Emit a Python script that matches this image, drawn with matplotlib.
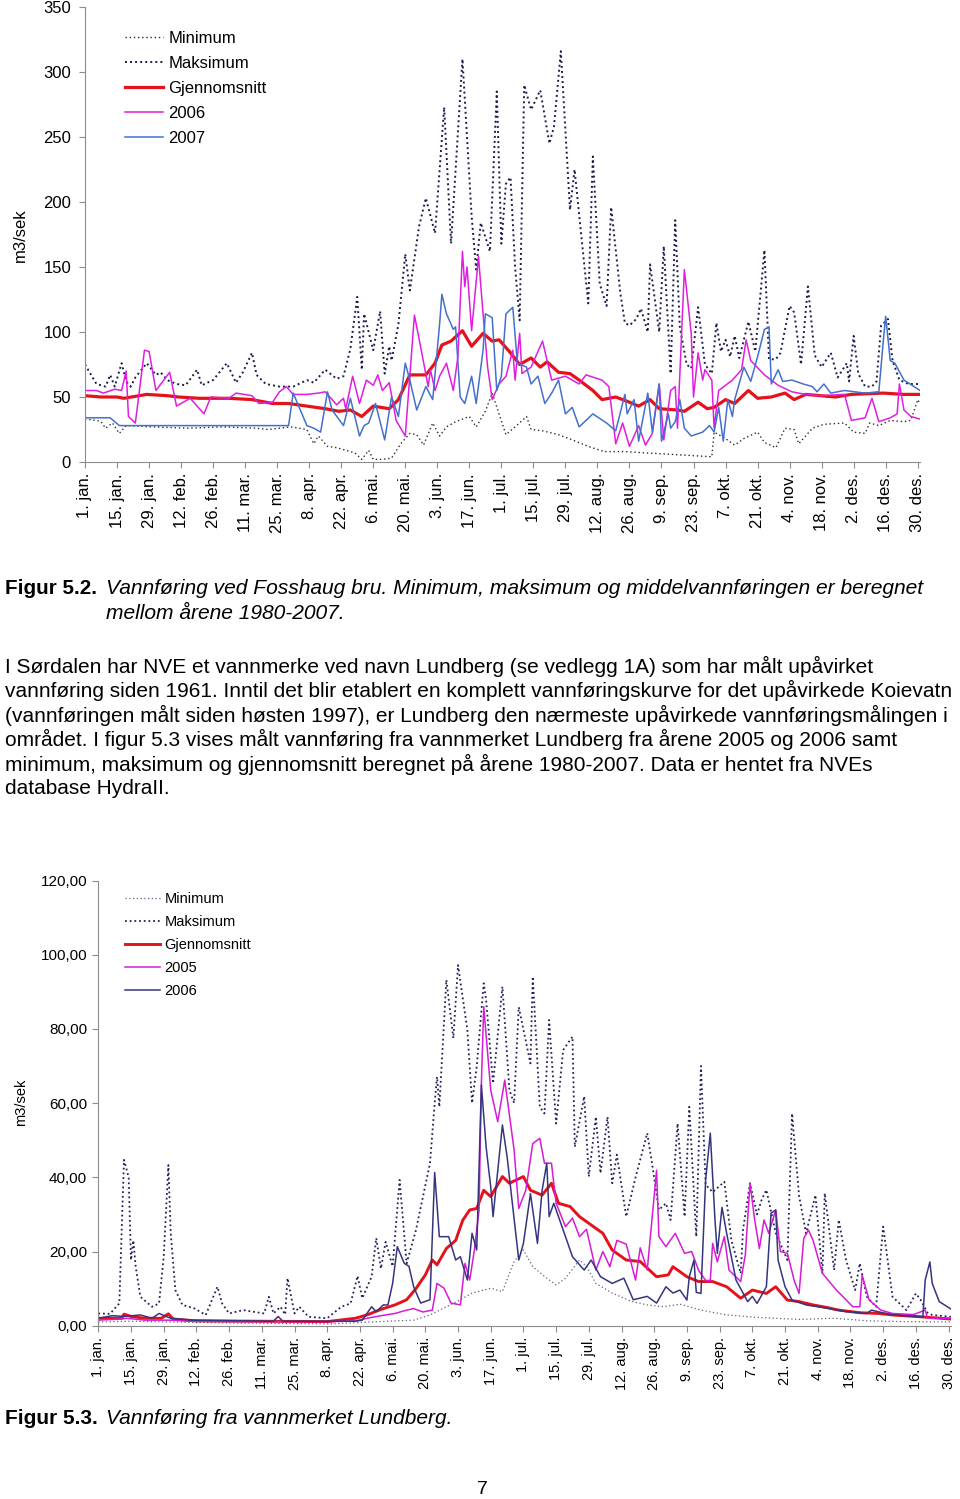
import matplotlib
matplotlib.use('Agg')
import matplotlib.pyplot as plt
from matplotlib.ticker import FuncFormatter

W, H = 960, 1499
plt.rcParams['font.family'] = ['Liberation Sans', 'DejaVu Sans']

tick_days = list(range(0, 365, 14))
tick_labels = ['1. jan.', '15. jan.', '29. jan.', '12. feb.', '26. feb.', '11. mar.', '25. mar.',
               '8. apr.', '22. apr.', '6. mai.', '20. mai.', '3. jun.', '17. jun.', '1. jul.',
               '15. jul.', '29. jul.', '12. aug.', '26. aug.', '9. sep.', '23. sep.', '7. okt.',
               '21. okt.', '4. nov.', '18. nov.', '2. des.', '16. des.', '30. des.']

# Figur 5.2 - Fosshaug bru, (dag, m3/sek)
fos_min = [(0, 33), (5, 32), (7, 31), (9, 26), (12, 30), (15, 22), (18, 28), (30, 27), (45, 26), (60, 27),
           (75, 26), (80, 25), (90, 27), (97, 25), (100, 14), (102, 20), (106, 12), (110, 11), (114, 9),
           (118, 7), (121, 2), (124, 9), (126, 2), (130, 2), (134, 3), (138, 14), (142, 22), (145, 21),
           (148, 13), (152, 30), (155, 20), (158, 27), (162, 31), (168, 35), (171, 27), (175, 39), (178, 53),
           (181, 37), (184, 21), (188, 27), (193, 35), (195, 25), (200, 24), (207, 21), (213, 17), (220, 12),
           (227, 8), (236, 8), (245, 7), (255, 6), (265, 5), (274, 4), (275, 23), (280, 18), (284, 13),
           (288, 18), (294, 23), (297, 15), (302, 11), (306, 26), (310, 25), (312, 14), (318, 26), (323, 29),
           (332, 30), (336, 23), (341, 22), (343, 30), (347, 28), (352, 32), (358, 31), (361, 32), (364, 48),
           (365, 45)]
fos_max = [(0, 75), (5, 60), (9, 58), (11, 67), (13, 58), (16, 76), (18, 62), (20, 58), (22, 65), (27, 76),
           (31, 67), (33, 69), (36, 63), (40, 60), (44, 59), (49, 71), (51, 59), (56, 63), (62, 76), (66, 61),
           (69, 69), (73, 84), (75, 67), (79, 60), (85, 58), (91, 58), (97, 63), (100, 61), (105, 71),
           (110, 64), (113, 66), (116, 87), (119, 127), (121, 71), (122, 114), (126, 86), (129, 116),
           (131, 68), (133, 89), (134, 78), (137, 106), (140, 160), (142, 132), (146, 181), (149, 203),
           (153, 176), (157, 273), (160, 168), (165, 310), (169, 189), (171, 148), (173, 184), (177, 162),
           (180, 285), (182, 168), (184, 214), (186, 219), (188, 150), (190, 109), (192, 290), (195, 271),
           (199, 286), (203, 245), (205, 258), (208, 316), (212, 194), (214, 225), (217, 173), (220, 122),
           (222, 235), (225, 137), (228, 120), (230, 196), (234, 130), (236, 107), (238, 105), (241, 110),
           (243, 118), (246, 100), (247, 152), (251, 100), (253, 166), (256, 68), (258, 186), (260, 104),
           (263, 75), (265, 72), (268, 119), (271, 75), (274, 68), (276, 107), (278, 85), (280, 94),
           (282, 81), (284, 97), (286, 80), (290, 108), (293, 85), (297, 163), (299, 79), (302, 79),
           (304, 84), (308, 120), (310, 115), (313, 75), (316, 135), (319, 82), (322, 73), (326, 84),
           (329, 65), (333, 76), (334, 62), (336, 97), (338, 68), (341, 58), (344, 58), (346, 62), (348, 105),
           (351, 110), (353, 78), (356, 63), (360, 60), (365, 60)]
fos_mean = [(0, 51), (7, 50), (14, 50), (17, 49), (27, 52), (36, 51), (41, 50), (50, 49), (63, 49), (73, 48),
            (82, 45), (89, 45), (97, 43), (105, 41), (111, 39), (116, 40), (121, 35), (126, 43), (133, 41),
            (137, 48), (142, 67), (149, 67), (153, 76), (156, 90), (160, 93), (165, 101), (169, 89), (174, 99),
            (178, 93), (181, 94), (186, 84), (190, 75), (195, 80), (199, 73), (202, 77), (207, 69), (212, 68),
            (216, 63), (222, 55), (226, 48), (232, 50), (238, 46), (242, 43), (247, 48), (251, 41), (259, 40),
            (262, 39), (268, 46), (272, 41), (275, 42), (280, 48), (284, 45), (290, 55), (294, 49), (300, 50),
            (306, 53), (310, 48), (315, 52), (328, 50), (335, 52), (349, 53), (358, 52), (365, 52)]
fos_2006 = [(0, 55), (5, 55), (8, 53), (13, 56), (16, 55), (18, 70), (19, 35), (22, 30), (26, 86), (28, 85),
            (31, 55), (37, 69), (40, 43), (46, 49), (52, 37), (55, 50), (63, 49), (66, 53), (73, 51), (76, 45),
            (82, 46), (85, 54), (88, 58), (91, 52), (97, 52), (102, 53), (105, 54), (110, 44), (113, 49),
            (114, 41), (117, 66), (120, 45), (123, 63), (126, 59), (128, 67), (130, 55), (133, 61), (136, 32),
            (140, 20), (144, 113), (147, 86), (150, 58), (151, 71), (153, 55), (155, 66), (158, 76), (161, 55),
            (163, 81), (165, 162), (166, 135), (167, 150), (169, 101), (172, 158), (174, 114), (176, 73),
            (178, 48), (181, 60), (184, 66), (187, 86), (188, 63), (190, 99), (191, 68), (195, 73), (200, 93),
            (204, 63), (210, 66), (216, 60), (219, 67), (226, 63), (229, 58), (232, 14), (235, 30), (238, 12),
            (242, 28), (245, 13), (248, 22), (251, 60), (253, 17), (256, 55), (258, 58), (259, 26), (262, 148),
            (265, 99), (266, 50), (268, 84), (270, 63), (271, 71), (274, 63), (275, 26), (277, 55), (283, 63),
            (287, 71), (289, 94), (291, 78), (297, 67), (303, 59), (309, 54), (315, 52), (321, 51), (332, 52),
            (335, 32), (341, 34), (344, 49), (347, 31), (352, 34), (355, 37), (356, 60), (358, 40), (361, 35),
            (365, 33)]
fos_2007 = [(0, 34), (11, 34), (15, 28), (30, 28), (60, 28), (89, 28), (91, 53), (97, 28), (100, 26), (103, 23),
            (106, 54), (108, 40), (113, 28), (116, 49), (120, 20), (122, 28), (124, 30), (127, 45), (131, 17),
            (134, 50), (137, 35), (140, 76), (142, 63), (145, 40), (149, 58), (152, 48), (155, 106), (156, 129),
            (158, 114), (161, 102), (162, 104), (164, 50), (166, 45), (169, 66), (171, 45), (174, 86), (175, 114),
            (178, 111), (180, 55), (182, 66), (184, 114), (187, 119), (189, 76), (193, 73), (195, 60), (198, 66),
            (201, 45), (204, 53), (207, 63), (210, 37), (213, 42), (216, 27), (222, 37), (228, 30), (232, 24),
            (236, 52), (237, 37), (240, 48), (242, 16), (246, 53), (248, 23), (251, 60), (252, 16), (255, 37),
            (256, 26), (258, 31), (260, 48), (262, 26), (265, 20), (270, 23), (273, 28), (275, 23), (277, 42),
            (279, 16), (281, 48), (283, 35), (284, 48), (288, 73), (291, 62), (294, 81), (297, 102), (299, 104),
            (300, 60), (303, 71), (305, 62), (309, 63), (314, 60), (318, 58), (320, 54), (323, 60), (326, 53),
            (332, 55), (341, 53), (347, 54), (349, 94), (350, 112), (352, 78), (354, 76), (358, 63), (365, 55)]

# Figur 5.3 - Lundberg, (dag, m3/sek)
lun_min = [(0, 1.0), (14, 1.2), (30, 1.0), (60, 0.7), (100, 0.5), (120, 1.1), (135, 1.5), (142, 2.9),
           (149, 5.1), (155, 7.0), (160, 8.8), (168, 10.1), (173, 9.2), (178, 17.3), (182, 20.4), (186, 15.9),
           (192, 12.8), (196, 11.0), (200, 12.8), (206, 17.7), (209, 16.0), (213, 11.4), (220, 8.8), (228, 6.6),
           (235, 5.6), (242, 5.1), (249, 5.8), (258, 4.2), (269, 2.9), (283, 2.2), (300, 1.7), (315, 2.0),
           (330, 1.3), (345, 1.1), (365, 1.0)]
lun_max = [(0, 3.3), (5, 3.2), (9, 6.0), (11, 44.7), (13, 40.0), (14, 17.7), (15, 23.0), (16, 16.0), (18, 7.8),
           (23, 5.1), (26, 6.0), (28, 18.6), (30, 43.3), (31, 25.0), (33, 9.6), (36, 5.6), (41, 4.7), (46, 2.9),
           (51, 10.5), (53, 6.0), (56, 3.3), (62, 4.2), (71, 3.3), (73, 7.8), (75, 3.3), (78, 5.1), (80, 3.0),
           (81, 12.8), (84, 3.3), (86, 5.1), (90, 2.4), (98, 2.0), (104, 5.1), (108, 6.0), (111, 13.4),
           (113, 7.4), (117, 13.2), (119, 23.6), (121, 15.4), (123, 22.6), (126, 16.0), (129, 39.3), (132, 16.8),
           (136, 25.8), (142, 43.8), (144, 60.0), (145, 67.1), (146, 59.0), (149, 93.2), (152, 77.5),
           (154, 97.2), (158, 79.7), (160, 60.0), (162, 69.8), (165, 92.3), (166, 88.0), (169, 65.3),
           (173, 91.4), (176, 63.5), (178, 60.0), (180, 85.9), (185, 70.7), (186, 94.1), (189, 59.0),
           (191, 57.2), (193, 82.4), (196, 54.5), (199, 74.3), (203, 77.9), (204, 48.2), (208, 61.8),
           (210, 40.2), (213, 56.3), (215, 41.1), (218, 56.3), (220, 38.4), (222, 46.1), (226, 29.4),
           (230, 40.0), (235, 51.9), (237, 44.0), (240, 31.2), (243, 33.0), (245, 28.5), (248, 54.5),
           (251, 29.4), (253, 59.0), (256, 24.0), (258, 70.0), (260, 38.0), (263, 36.0), (268, 38.8),
           (271, 23.1), (275, 14.1), (276, 25.8), (279, 38.4), (282, 30.0), (284, 34.0), (286, 36.6),
           (290, 25.0), (295, 17.7), (297, 57.2), (300, 35.0), (303, 24.9), (307, 35.2), (310, 14.1),
           (311, 35.7), (315, 15.0), (317, 28.5), (320, 18.0), (324, 9.6), (326, 16.8), (329, 7.8), (333, 5.1),
           (336, 26.7), (340, 7.8), (346, 4.2), (350, 8.7), (352, 7.0), (355, 3.5), (357, 2.9), (365, 2.4)]
lun_mean = [(0, 2.0), (10, 2.0), (11, 3.1), (14, 2.5), (20, 2.0), (27, 2.0), (30, 3.2), (32, 1.8), (42, 1.3),
            (70, 1.2), (98, 1.1), (110, 2.0), (115, 2.9), (121, 4.4), (127, 5.6), (132, 7.0), (136, 10.0),
            (140, 13.7), (143, 17.7), (145, 16.4), (149, 20.8), (153, 23.0), (156, 28.4), (159, 31.2),
            (162, 31.6), (165, 36.5), (168, 34.8), (173, 40.2), (176, 38.4), (179, 39.3), (182, 40.2),
            (185, 36.5), (190, 35.2), (194, 38.4), (197, 33.0), (202, 32.1), (206, 29.4), (212, 26.7),
            (216, 24.9), (220, 20.4), (226, 17.7), (232, 17.3), (239, 13.2), (244, 13.7), (246, 15.9),
            (252, 13.2), (257, 11.9), (263, 11.9), (269, 10.5), (275, 7.4), (280, 9.6), (286, 8.7), (290, 10.5),
            (295, 6.9), (300, 6.5), (306, 5.6), (312, 4.9), (317, 4.2), (326, 3.5), (334, 3.3), (340, 2.9),
            (352, 2.4), (365, 1.8)]
lun_2005 = [(0, 1.5), (10, 1.8), (12, 2.0), (20, 1.5), (30, 1.5), (40, 1.2), (60, 1.1), (100, 1.1), (110, 1.3),
            (115, 2.0), (121, 2.7), (127, 3.3), (132, 4.2), (135, 4.6), (139, 3.7), (143, 4.2), (145, 11.4),
            (148, 10.1), (151, 6.1), (155, 5.6), (157, 16.8), (159, 12.3), (161, 20.4), (163, 31.2), (164, 65.3),
            (165, 86.0), (168, 63.5), (171, 55.0), (174, 66.2), (178, 47.4), (180, 31.6), (183, 36.5),
            (186, 49.1), (189, 50.5), (191, 43.8), (194, 43.8), (196, 33.0), (200, 26.7), (203, 29.0),
            (206, 24.0), (209, 26.0), (213, 15.0), (216, 20.0), (219, 15.9), (222, 23.0), (226, 22.0),
            (230, 12.3), (232, 21.0), (235, 15.0), (239, 41.9), (240, 24.0), (243, 21.3), (247, 24.9),
            (251, 19.5), (254, 20.0), (257, 14.9), (260, 12.2), (262, 12.2), (263, 22.2), (265, 17.2),
            (268, 24.0), (270, 15.0), (275, 11.9), (277, 19.1), (279, 38.4), (281, 28.5), (283, 20.8),
            (285, 28.5), (287, 24.9), (290, 31.2), (292, 20.0), (295, 19.5), (298, 12.0), (300, 8.7),
            (302, 23.5), (304, 25.8), (306, 23.0), (310, 14.1), (316, 9.6), (323, 5.1), (326, 5.1), (327, 13.6),
            (330, 6.9), (335, 4.2), (340, 3.3), (349, 3.0), (354, 4.2), (355, 2.0), (365, 2.0)]
lun_2006 = [(0, 2.0), (6, 2.7), (11, 2.5), (18, 2.9), (23, 2.0), (26, 3.3), (31, 2.0), (40, 1.5), (75, 1.2),
            (77, 2.5), (79, 1.2), (110, 1.2), (113, 1.5), (117, 5.1), (119, 3.8), (122, 5.6), (124, 5.6),
            (126, 11.4), (128, 21.3), (131, 16.8), (133, 16.0), (135, 10.5), (138, 6.1), (142, 7.0), (144, 41.3),
            (146, 24.0), (150, 24.0), (153, 17.7), (155, 18.6), (158, 12.3), (160, 24.9), (162, 20.4),
            (164, 64.9), (166, 48.3), (168, 37.4), (169, 29.4), (173, 54.1), (175, 45.6), (180, 17.7),
            (182, 22.2), (185, 35.6), (188, 22.2), (190, 36.5), (192, 43.8), (193, 29.4), (195, 33.0),
            (199, 25.8), (203, 18.6), (208, 15.0), (211, 17.7), (215, 13.2), (220, 11.4), (225, 12.8),
            (229, 7.0), (235, 7.9), (239, 6.1), (243, 10.5), (246, 8.8), (249, 9.6), (252, 6.9), (253, 13.2),
            (255, 17.7), (256, 9.0), (258, 8.7), (260, 39.3), (262, 51.9), (264, 28.5), (265, 19.5),
            (267, 31.9), (269, 24.9), (273, 12.3), (278, 6.5), (280, 7.9), (282, 6.0), (286, 10.5), (288, 30.3),
            (290, 31.2), (291, 17.7), (294, 10.5), (297, 6.9), (303, 5.6), (312, 4.7), (320, 3.8), (329, 3.3),
            (331, 4.2), (335, 3.6), (340, 2.9), (353, 2.4), (354, 12.3), (356, 17.2), (357, 11.4), (360, 6.5),
            (365, 4.5)]


def fy(y):
    return 1 - y / H


def unzip(pairs):
    return [p[0] for p in pairs], [p[1] for p in pairs]


def style_axes(ax, ymax, ystep, fmt, fs_x, fs_y, ypad):
    for side in ['top', 'right']:
        ax.spines[side].set_visible(False)
    for side in ['left', 'bottom']:
        ax.spines[side].set_color('#8c8c8c')
    ax.set_xlim(0, 365)
    ax.set_ylim(0, ymax)
    ax.set_xticks(tick_days)
    ax.set_xticklabels(tick_labels, rotation=90, fontsize=fs_x)
    ax.set_yticks(range(0, ymax + 1, ystep))
    ax.yaxis.set_major_formatter(FuncFormatter(fmt))
    ax.tick_params(axis='both', direction='out', length=4, color='#8c8c8c')
    ax.tick_params(axis='y', labelsize=fs_y, pad=ypad)
    ax.tick_params(axis='x', pad=4)


fig = plt.figure(figsize=(W / 100, H / 100), dpi=100)

# ---- Figur 5.2 ----
ax1 = fig.add_axes([85 / W, fy(462), 835 / W, 455 / H])
styles1 = [
    (fos_min, 'Minimum', dict(color='#2b2b2b', lw=1.0, ls=(0, (1, 2)))),
    (fos_max, 'Maksimum', dict(color='#1c1c4c', lw=1.4, ls=(0, (1, 1.6)))),
    (fos_mean, 'Gjennomsnitt', dict(color='#e3121b', lw=2.3)),
    (fos_2006, '2006', dict(color='#e01ee0', lw=1.1)),
    (fos_2007, '2007', dict(color='#4470cc', lw=1.1)),
]
for data, name, kw in styles1:
    d, v = unzip(data)
    ax1.plot(d, v, label=name, **kw)
style_axes(ax1, 350, 50, lambda v, p: '%d' % v, 12, 12, 6)
ax1.set_ylabel('m3/sek', fontsize=12, labelpad=4)
ax1.yaxis.set_label_coords(28 / W, fy(235), transform=fig.transFigure)
ax1.legend(loc='upper left', bbox_to_anchor=(125 / W, fy(31)), bbox_transform=fig.transFigure,
           frameon=False, fontsize=12, handlelength=2.3, handletextpad=0.3, labelspacing=0.6,
           borderpad=0, borderaxespad=0)

# ---- Figur 5.3 ----
ax2 = fig.add_axes([98.3 / W, fy(1325.7), 852.6 / W, 445.2 / H])
styles2 = [
    (lun_min, 'Minimum', dict(color='#60607a', lw=0.9, ls=(0, (1, 2)))),
    (lun_max, 'Maksimum', dict(color='#22225a', lw=1.3, ls=(0, (1, 1.6)))),
    (lun_mean, 'Gjennomsnitt', dict(color='#e3121b', lw=2.1)),
    (lun_2005, '2005', dict(color='#d61cd6', lw=1.1)),
    (lun_2006, '2006', dict(color='#34357e', lw=1.1)),
]
for data, name, kw in styles2:
    d, v = unzip(data)
    ax2.plot(d, v, label=name, **kw)
style_axes(ax2, 120, 20, lambda v, p: ('%.2f' % v).replace('.', ','), 10.5, 11, 4)
ax2.set_ylabel('m3/sek', fontsize=10.5)
ax2.yaxis.set_label_coords(28 / W, fy(1102), transform=fig.transFigure)
ax2.legend(loc='upper left', bbox_to_anchor=(125 / W, fy(892)), bbox_transform=fig.transFigure,
           frameon=False, fontsize=10.5, handlelength=2.4, handletextpad=0.3, labelspacing=0.62,
           borderpad=0, borderaxespad=0)

# ---- tekst ----
renderer = fig.canvas.get_renderer()


def fit(texts, target_px):
    # skaler skriftstørrelsen slik at den lengste linjen får riktig bredde
    widths = [t.get_window_extent(renderer).width for t in texts]
    k = target_px / max(widths)
    for t in texts:
        t.set_fontsize(t.get_fontsize() * k)


b1 = fig.text(5 / W, fy(589), 'Figur 5.2.', fontsize=14, fontweight='bold', va='center')
c1 = [fig.text(106 / W, fy(589), 'Vannføring ved Fosshaug bru. Minimum, maksimum og middelvannføringen er beregnet',
               fontsize=14, style='italic', va='center'),
      fig.text(106 / W, fy(613), 'mellom årene 1980-2007.', fontsize=14, style='italic', va='center')]
fit([b1], 92)
fit(c1, 822)

body = ['I Sørdalen har NVE et vannmerke ved navn Lundberg (se vedlegg 1A) som har målt upåvirket',
        'vannføring siden 1961. Inntil det blir etablert en komplett vannføringskurve for det upåvirkede Koievatn',
        '(vannføringen målt siden høsten 1997), er Lundberg den nærmeste upåvirkede vannføringsmålingen i',
        'området. I figur 5.3 vises målt vannføring fra vannmerket Lundberg fra årene 2005 og 2006 samt',
        'minimum, maksimum og gjennomsnitt beregnet på årene 1980-2007. Data er hentet fra NVEs',
        'database HydraII.']
body_y = [666, 690, 715, 739, 764, 788]
bt = [fig.text(5 / W, fy(y), s, fontsize=14, va='center') for s, y in zip(body, body_y)]
fit(bt, 953)

b2 = fig.text(5 / W, fy(1418), 'Figur 5.3.', fontsize=14, fontweight='bold', va='center')
c2 = fig.text(106 / W, fy(1418), 'Vannføring fra vannmerket Lundberg.', fontsize=14, style='italic', va='center')
fit([b2], 93)
fit([c2], 348)

fig.text(482 / W, fy(1489), '7', fontsize=14, ha='center', va='center')

fig.savefig('out.png', dpi=100)
